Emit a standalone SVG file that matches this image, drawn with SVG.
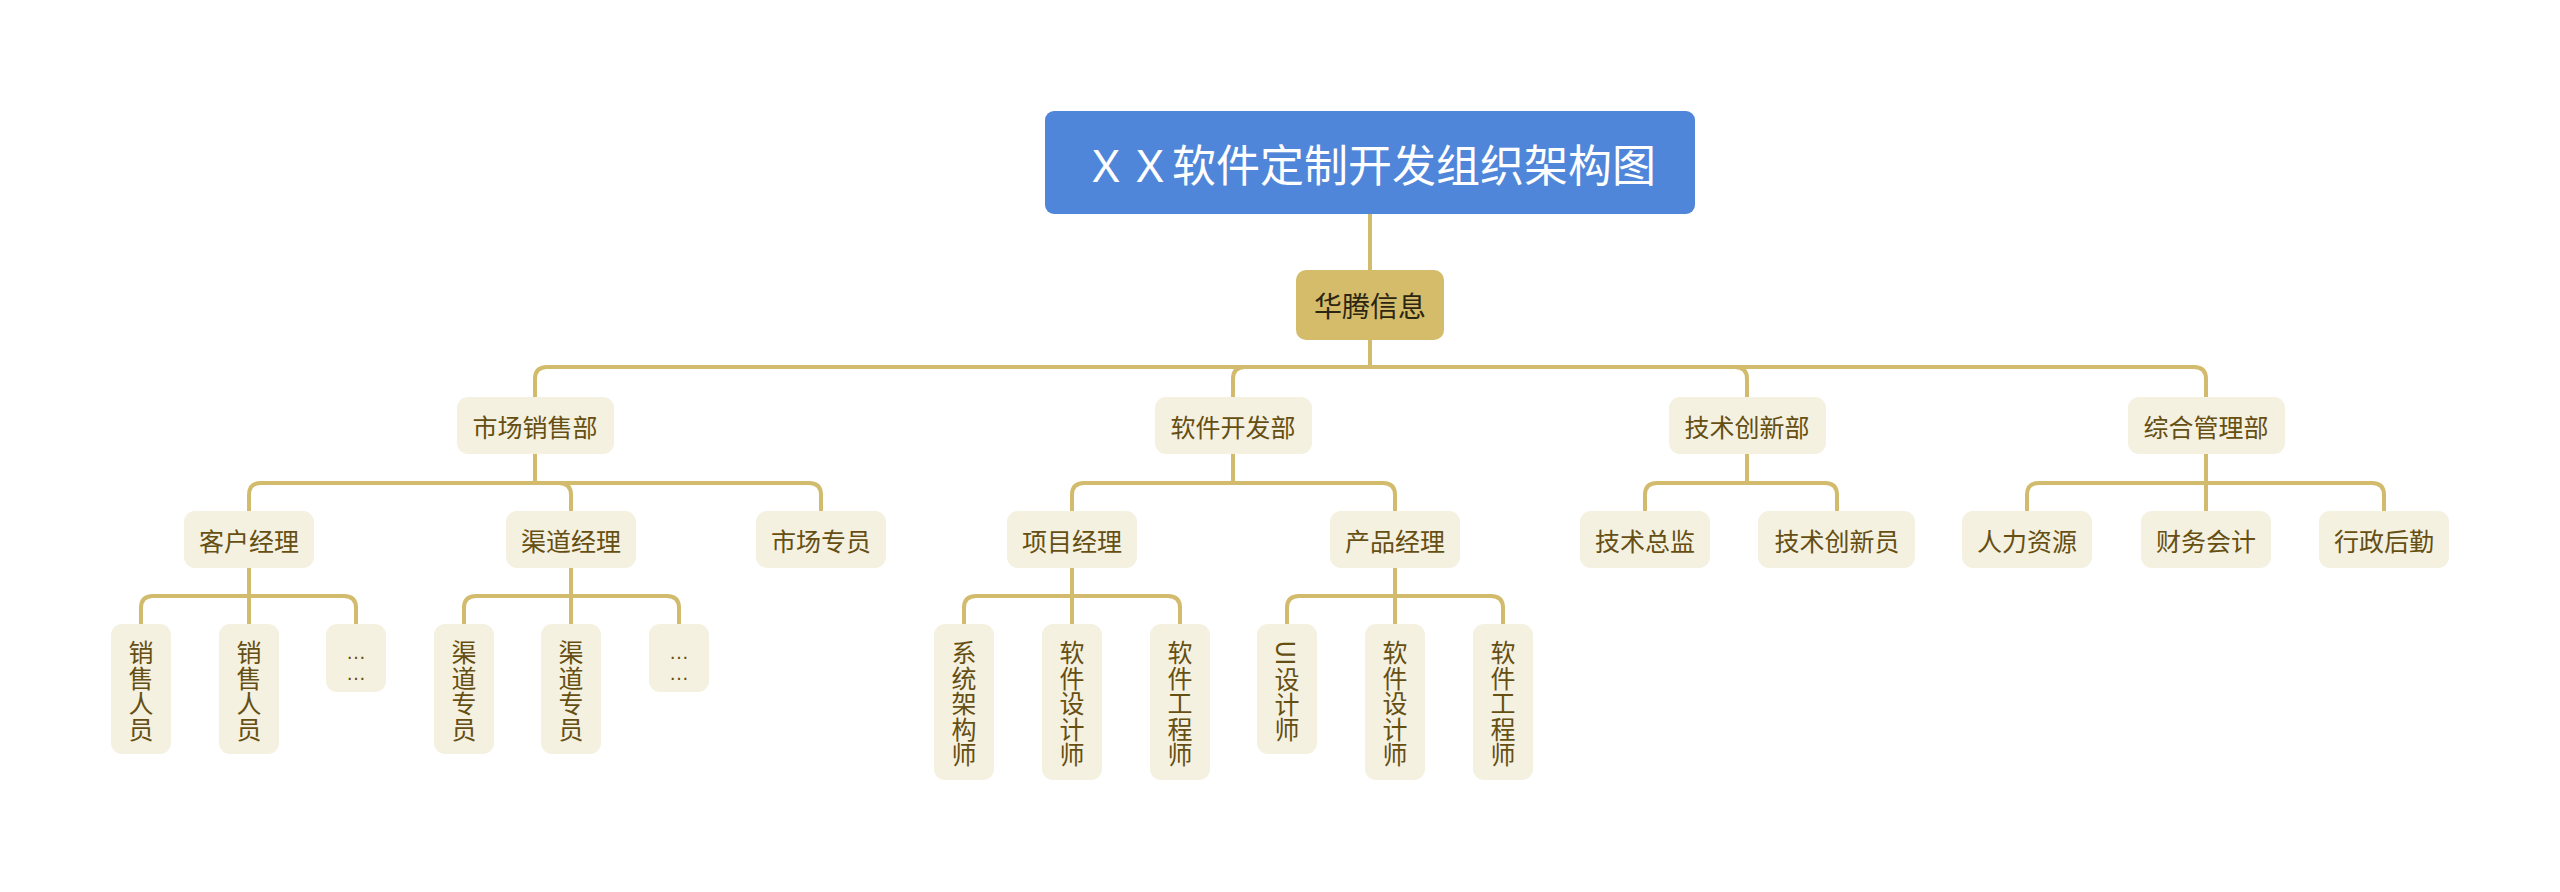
<svg xmlns="http://www.w3.org/2000/svg" width="2560" height="892" viewBox="0 0 2560 892">
<style>
.ln{fill:none;stroke:#d2bb6d;stroke-width:4;stroke-linejoin:round}
.nd{fill:#f5f1e1}
.t{font-family:"Noto Sans CJK SC","Noto Sans",sans-serif;font-size:25px;fill:#654f12;text-anchor:middle;dominant-baseline:central}
.e{font-family:"Liberation Sans",sans-serif;font-size:20px;fill:#654f12;text-anchor:middle}
</style>
<rect width="2560" height="892" fill="#ffffff"/>
<g id="connectors">
<path class="ln" d="M1370 214 V270"/>
<path class="ln" d="M1370 340 V367 H547 Q535 367 535 379 V397"/>
<path class="ln" d="M1370 340 V367 H1245 Q1233 367 1233 379 V397"/>
<path class="ln" d="M1370 340 V367 H1735 Q1747 367 1747 379 V397"/>
<path class="ln" d="M1370 340 V367 H2194 Q2206 367 2206 379 V397"/>
<path class="ln" d="M535 454 V483 H261 Q249 483 249 495 V511"/>
<path class="ln" d="M535 454 V483 H559 Q571 483 571 495 V511"/>
<path class="ln" d="M535 454 V483 H809 Q821 483 821 495 V511"/>
<path class="ln" d="M1233 454 V483 H1084 Q1072 483 1072 495 V511"/>
<path class="ln" d="M1233 454 V483 H1383 Q1395 483 1395 495 V511"/>
<path class="ln" d="M1747 454 V483 H1657 Q1645 483 1645 495 V511"/>
<path class="ln" d="M1747 454 V483 H1825 Q1837 483 1837 495 V511"/>
<path class="ln" d="M2206 454 V483 H2039 Q2027 483 2027 495 V511"/>
<path class="ln" d="M2206 454 V511"/>
<path class="ln" d="M2206 454 V483 H2372 Q2384 483 2384 495 V511"/>
<path class="ln" d="M249 568 V596 H153 Q141 596 141 608 V624"/>
<path class="ln" d="M249 568 V624"/>
<path class="ln" d="M249 568 V596 H344 Q356 596 356 608 V624"/>
<path class="ln" d="M571 568 V596 H476 Q464 596 464 608 V624"/>
<path class="ln" d="M571 568 V624"/>
<path class="ln" d="M571 568 V596 H667 Q679 596 679 608 V624"/>
<path class="ln" d="M1072 568 V596 H976 Q964 596 964 608 V624"/>
<path class="ln" d="M1072 568 V624"/>
<path class="ln" d="M1072 568 V596 H1168 Q1180 596 1180 608 V624"/>
<path class="ln" d="M1395 568 V596 H1299 Q1287 596 1287 608 V624"/>
<path class="ln" d="M1395 568 V624"/>
<path class="ln" d="M1395 568 V596 H1491 Q1503 596 1503 608 V624"/>
</g>
<g id="root">
<rect x="1045" y="111" width="650" height="103" rx="9" fill="#4f86d9"/>
<text x="1370" y="163" font-family="'Noto Sans CJK SC','Noto Sans',sans-serif" font-size="44" fill="#ffffff" text-anchor="middle" dominant-baseline="central">ＸＸ软件定制开发组织架构图</text>
</g>
<g id="huateng">
<rect x="1296" y="270" width="148" height="70" rx="10" fill="#d4bc6b"/>
<text x="1370" y="305" font-family="'Noto Sans CJK SC','Noto Sans',sans-serif" font-size="28" fill="#2b2511" text-anchor="middle" dominant-baseline="central">华腾信息</text>
</g>
<g id="n-shichang"><rect class="nd" x="457" y="397" width="157" height="57" rx="11"/><text class="t" x="535" y="425.5">市场销售部</text></g>
<g id="n-ruanjian"><rect class="nd" x="1155" y="397" width="157" height="57" rx="11"/><text class="t" x="1233" y="425.5">软件开发部</text></g>
<g id="n-jishu"><rect class="nd" x="1669" y="397" width="157" height="57" rx="11"/><text class="t" x="1747" y="425.5">技术创新部</text></g>
<g id="n-zonghe"><rect class="nd" x="2128" y="397" width="157" height="57" rx="11"/><text class="t" x="2206" y="425.5">综合管理部</text></g>
<g id="n-kehu"><rect class="nd" x="184" y="511" width="130" height="57" rx="11"/><text class="t" x="249" y="539.5">客户经理</text></g>
<g id="n-qudao"><rect class="nd" x="506" y="511" width="130" height="57" rx="11"/><text class="t" x="571" y="539.5">渠道经理</text></g>
<g id="n-shichangzy"><rect class="nd" x="756" y="511" width="130" height="57" rx="11"/><text class="t" x="821" y="539.5">市场专员</text></g>
<g id="n-xiangmu"><rect class="nd" x="1007" y="511" width="130" height="57" rx="11"/><text class="t" x="1072" y="539.5">项目经理</text></g>
<g id="n-chanpin"><rect class="nd" x="1330" y="511" width="130" height="57" rx="11"/><text class="t" x="1395" y="539.5">产品经理</text></g>
<g id="n-zongjian"><rect class="nd" x="1580" y="511" width="130" height="57" rx="11"/><text class="t" x="1645" y="539.5">技术总监</text></g>
<g id="n-chuangxinyuan"><rect class="nd" x="1758" y="511" width="157" height="57" rx="11"/><text class="t" x="1837" y="539.5">技术创新员</text></g>
<g id="n-renli"><rect class="nd" x="1962" y="511" width="130" height="57" rx="11"/><text class="t" x="2027" y="539.5">人力资源</text></g>
<g id="n-caiwu"><rect class="nd" x="2141" y="511" width="130" height="57" rx="11"/><text class="t" x="2206" y="539.5">财务会计</text></g>
<g id="n-xingzheng"><rect class="nd" x="2319" y="511" width="130" height="57" rx="11"/><text class="t" x="2384" y="539.5">行政后勤</text></g>
<g id="n-xiaoshou1"><rect class="nd" x="111" y="624" width="60" height="130" rx="11"/><text class="t"><tspan x="141" y="651">销</tspan><tspan x="141" y="676.5">售</tspan><tspan x="141" y="702">人</tspan><tspan x="141" y="727.5">员</tspan></text></g>
<g id="n-xiaoshou2"><rect class="nd" x="219" y="624" width="60" height="130" rx="11"/><text class="t"><tspan x="249" y="651">销</tspan><tspan x="249" y="676.5">售</tspan><tspan x="249" y="702">人</tspan><tspan x="249" y="727.5">员</tspan></text></g>
<g id="n-etc1"><rect class="nd" x="326" y="624" width="60" height="68" rx="11"/><text class="e"><tspan x="356" y="659">…</tspan><tspan x="356" y="680">…</tspan></text></g>
<g id="n-qudaozy1"><rect class="nd" x="434" y="624" width="60" height="130" rx="11"/><text class="t"><tspan x="464" y="651">渠</tspan><tspan x="464" y="676.5">道</tspan><tspan x="464" y="702">专</tspan><tspan x="464" y="727.5">员</tspan></text></g>
<g id="n-qudaozy2"><rect class="nd" x="541" y="624" width="60" height="130" rx="11"/><text class="t"><tspan x="571" y="651">渠</tspan><tspan x="571" y="676.5">道</tspan><tspan x="571" y="702">专</tspan><tspan x="571" y="727.5">员</tspan></text></g>
<g id="n-etc2"><rect class="nd" x="649" y="624" width="60" height="68" rx="11"/><text class="e"><tspan x="679" y="659">…</tspan><tspan x="679" y="680">…</tspan></text></g>
<g id="n-xitong"><rect class="nd" x="934" y="624" width="60" height="156" rx="11"/><text class="t"><tspan x="964" y="651">系</tspan><tspan x="964" y="676.5">统</tspan><tspan x="964" y="702">架</tspan><tspan x="964" y="727.5">构</tspan><tspan x="964" y="753">师</tspan></text></g>
<g id="n-sheji1"><rect class="nd" x="1042" y="624" width="60" height="156" rx="11"/><text class="t"><tspan x="1072" y="651">软</tspan><tspan x="1072" y="676.5">件</tspan><tspan x="1072" y="702">设</tspan><tspan x="1072" y="727.5">计</tspan><tspan x="1072" y="753">师</tspan></text></g>
<g id="n-gongcheng1"><rect class="nd" x="1150" y="624" width="60" height="156" rx="11"/><text class="t"><tspan x="1180" y="651">软</tspan><tspan x="1180" y="676.5">件</tspan><tspan x="1180" y="702">工</tspan><tspan x="1180" y="727.5">程</tspan><tspan x="1180" y="753">师</tspan></text></g>
<g id="n-ui"><rect class="nd" x="1257" y="624" width="60" height="130" rx="11"/><text class="t" transform="translate(1287 653) rotate(90)" x="0" y="0">UI</text><text class="t"><tspan x="1287" y="677.5">设</tspan><tspan x="1287" y="702.5">计</tspan><tspan x="1287" y="728">师</tspan></text></g>
<g id="n-sheji2"><rect class="nd" x="1365" y="624" width="60" height="156" rx="11"/><text class="t"><tspan x="1395" y="651">软</tspan><tspan x="1395" y="676.5">件</tspan><tspan x="1395" y="702">设</tspan><tspan x="1395" y="727.5">计</tspan><tspan x="1395" y="753">师</tspan></text></g>
<g id="n-gongcheng2"><rect class="nd" x="1473" y="624" width="60" height="156" rx="11"/><text class="t"><tspan x="1503" y="651">软</tspan><tspan x="1503" y="676.5">件</tspan><tspan x="1503" y="702">工</tspan><tspan x="1503" y="727.5">程</tspan><tspan x="1503" y="753">师</tspan></text></g>
</svg>
